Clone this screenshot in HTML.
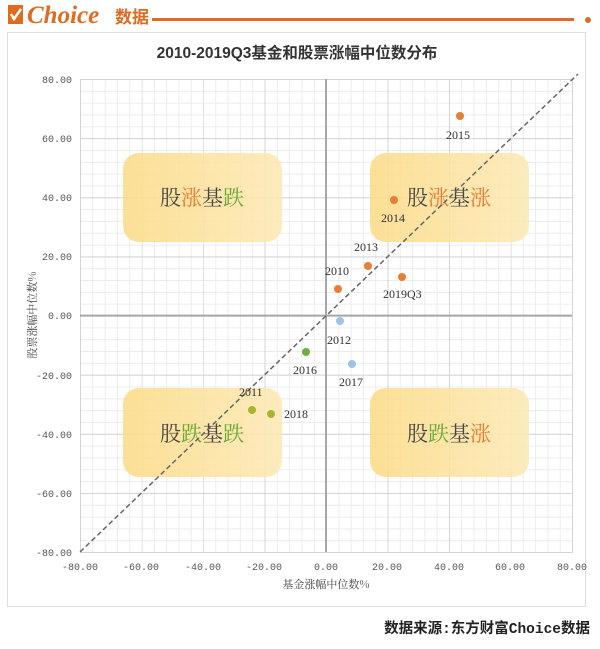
<!DOCTYPE html>
<html><head><meta charset="utf-8"><style>
body{margin:0;background:#fff;width:600px;height:644px;overflow:hidden;font-family:"Liberation Sans","Noto Sans CJK SC",sans-serif}
</style></head><body>
<svg width="600" height="644" xmlns="http://www.w3.org/2000/svg">
<defs>
<linearGradient id="bx" x1="0" y1="0" x2="1" y2="0"><stop offset="0" stop-color="#fbdc8a"/><stop offset="1" stop-color="#fde9b6"/></linearGradient>
<pattern id="mn" x="80" y="79" width="12.3" height="11.8275" patternUnits="userSpaceOnUse">
<path d="M0.5 0 V11.8275 M0 0.5 H12.3" stroke="#ececec" stroke-width="1" fill="none"/></pattern>
<pattern id="mj" x="80" y="79" width="61.5" height="59.1375" patternUnits="userSpaceOnUse">
<path d="M0.5 0 V59.1375 M0 0.5 H61.5" stroke="#d4d4d4" stroke-width="1" fill="none"/></pattern>
</defs>
<!-- header -->
<rect x="8" y="5" width="15" height="19" fill="#e06a1e"/>
<path d="M11 14 l3 5 l7 -10" stroke="#fff" stroke-width="2.5" fill="none"/>
<text x="27" y="23" font-family="Liberation Serif,serif" font-style="italic" font-weight="bold" font-size="25" fill="#e06a1e">Choice</text>
<text x="115" y="23" font-family="Noto Sans CJK SC,sans-serif" font-weight="bold" font-size="17" fill="#e06a1e">数据</text>
<rect x="152" y="18" width="422" height="3" fill="#e06a1e"/>
<circle cx="588" cy="20" r="3" fill="#e06a1e"/>
<!-- chart frame -->
<rect x="7.5" y="32.5" width="578" height="574" fill="#fff" stroke="#ddd"/>
<text x="297" y="58" text-anchor="middle" font-family="Liberation Sans,Noto Sans CJK SC,sans-serif" font-weight="bold" font-size="15.5" fill="#333">2010-2019Q3基金和股票涨幅中位数分布</text>
<!-- grid -->
<rect x="80" y="79" width="493" height="474" fill="url(#mn)"/>
<rect x="80" y="79" width="493" height="474" fill="url(#mj)"/>
<rect x="80.5" y="79.5" width="492" height="473" fill="none" stroke="#d4d4d4"/>
<!-- boxes -->
<g>
<rect x="123" y="153" width="159" height="89" rx="16" fill="url(#bx)" opacity="0.9"/>
<rect x="370" y="153" width="159" height="89" rx="16" fill="url(#bx)" opacity="0.9"/>
<rect x="123" y="388" width="159" height="89" rx="16" fill="url(#bx)" opacity="0.9"/>
<rect x="370" y="388" width="159" height="89" rx="16" fill="url(#bx)" opacity="0.9"/>
</g>
<g font-family="Noto Serif CJK SC,serif" font-size="21" text-anchor="middle">
<text x="202" y="205"><tspan fill="#444">股</tspan><tspan fill="#e67e36">涨</tspan><tspan fill="#444">基</tspan><tspan fill="#6aaa3a">跌</tspan></text>
<text x="449" y="205"><tspan fill="#444">股</tspan><tspan fill="#e67e36">涨</tspan><tspan fill="#444">基</tspan><tspan fill="#e67e36">涨</tspan></text>
<text x="202" y="441"><tspan fill="#444">股</tspan><tspan fill="#6aaa3a">跌</tspan><tspan fill="#444">基</tspan><tspan fill="#6aaa3a">跌</tspan></text>
<text x="449" y="441"><tspan fill="#444">股</tspan><tspan fill="#6aaa3a">跌</tspan><tspan fill="#444">基</tspan><tspan fill="#e67e36">涨</tspan></text>
</g>
<!-- axes -->
<line x1="326" y1="79" x2="326" y2="552" stroke="#a6a6a6" stroke-width="2"/>
<line x1="80" y1="315.6" x2="572" y2="315.6" stroke="#a6a6a6" stroke-width="2"/>
<line x1="80" y1="552" x2="578" y2="74" stroke="#666" stroke-width="1.5" stroke-dasharray="5,3"/>
<!-- ticks -->
<g font-family="Liberation Mono,monospace" font-size="10" fill="#555">
<text x="72" y="83" text-anchor="end">80.00</text>
<text x="72" y="142" text-anchor="end">60.00</text>
<text x="72" y="201" text-anchor="end">40.00</text>
<text x="72" y="260" text-anchor="end">20.00</text>
<text x="72" y="319" text-anchor="end">0.00</text>
<text x="72" y="379" text-anchor="end">-20.00</text>
<text x="72" y="438" text-anchor="end">-40.00</text>
<text x="72" y="497" text-anchor="end">-60.00</text>
<text x="72" y="556" text-anchor="end">-80.00</text>
<g text-anchor="middle">
<text x="80" y="570">-80.00</text><text x="141" y="570">-60.00</text><text x="203" y="570">-40.00</text><text x="264" y="570">-20.00</text><text x="326" y="570">0.00</text><text x="387" y="570">20.00</text><text x="449" y="570">40.00</text><text x="510" y="570">60.00</text><text x="572" y="570">80.00</text>
</g>
</g>
<text x="326" y="588" text-anchor="middle" font-family="Noto Serif CJK SC,serif" font-size="11" fill="#444">基金涨幅中位数%</text>
<text transform="translate(36,315) rotate(-90)" text-anchor="middle" font-family="Noto Serif CJK SC,serif" font-size="11" fill="#444">股票涨幅中位数%</text>
<!-- points -->
<g>
<circle cx="460" cy="116" r="4" fill="#e67e36"/>
<circle cx="394" cy="200" r="4" fill="#e67e36"/>
<circle cx="368" cy="266" r="4" fill="#e67e36"/>
<circle cx="338" cy="289" r="4" fill="#e67e36"/>
<circle cx="402" cy="277" r="4" fill="#e67e36"/>
<circle cx="340" cy="321" r="4" fill="#9dc3e6"/>
<circle cx="352" cy="364" r="4" fill="#9dc3e6"/>
<circle cx="306" cy="352" r="4" fill="#70ad47"/>
<circle cx="252" cy="410" r="4" fill="#a9b52c"/>
<circle cx="271" cy="414" r="4" fill="#a9b52c"/>
</g>
<g font-family="Liberation Serif,serif" font-size="12" fill="#333">
<text x="446" y="139">2015</text>
<text x="381" y="222">2014</text>
<text x="354" y="251">2013</text>
<text x="325" y="275">2010</text>
<text x="383" y="298">2019Q3</text>
<text x="327" y="344">2012</text>
<text x="339" y="386">2017</text>
<text x="293" y="374">2016</text>
<text x="239" y="396">2011</text>
<text x="284" y="418">2018</text>
</g>
<text x="590" y="633" text-anchor="end" font-family="Liberation Mono,Noto Sans CJK SC,monospace" font-weight="bold" font-size="14.5" fill="#222">数据来源:东方财富Choice数据</text>
</svg>
</body></html>
